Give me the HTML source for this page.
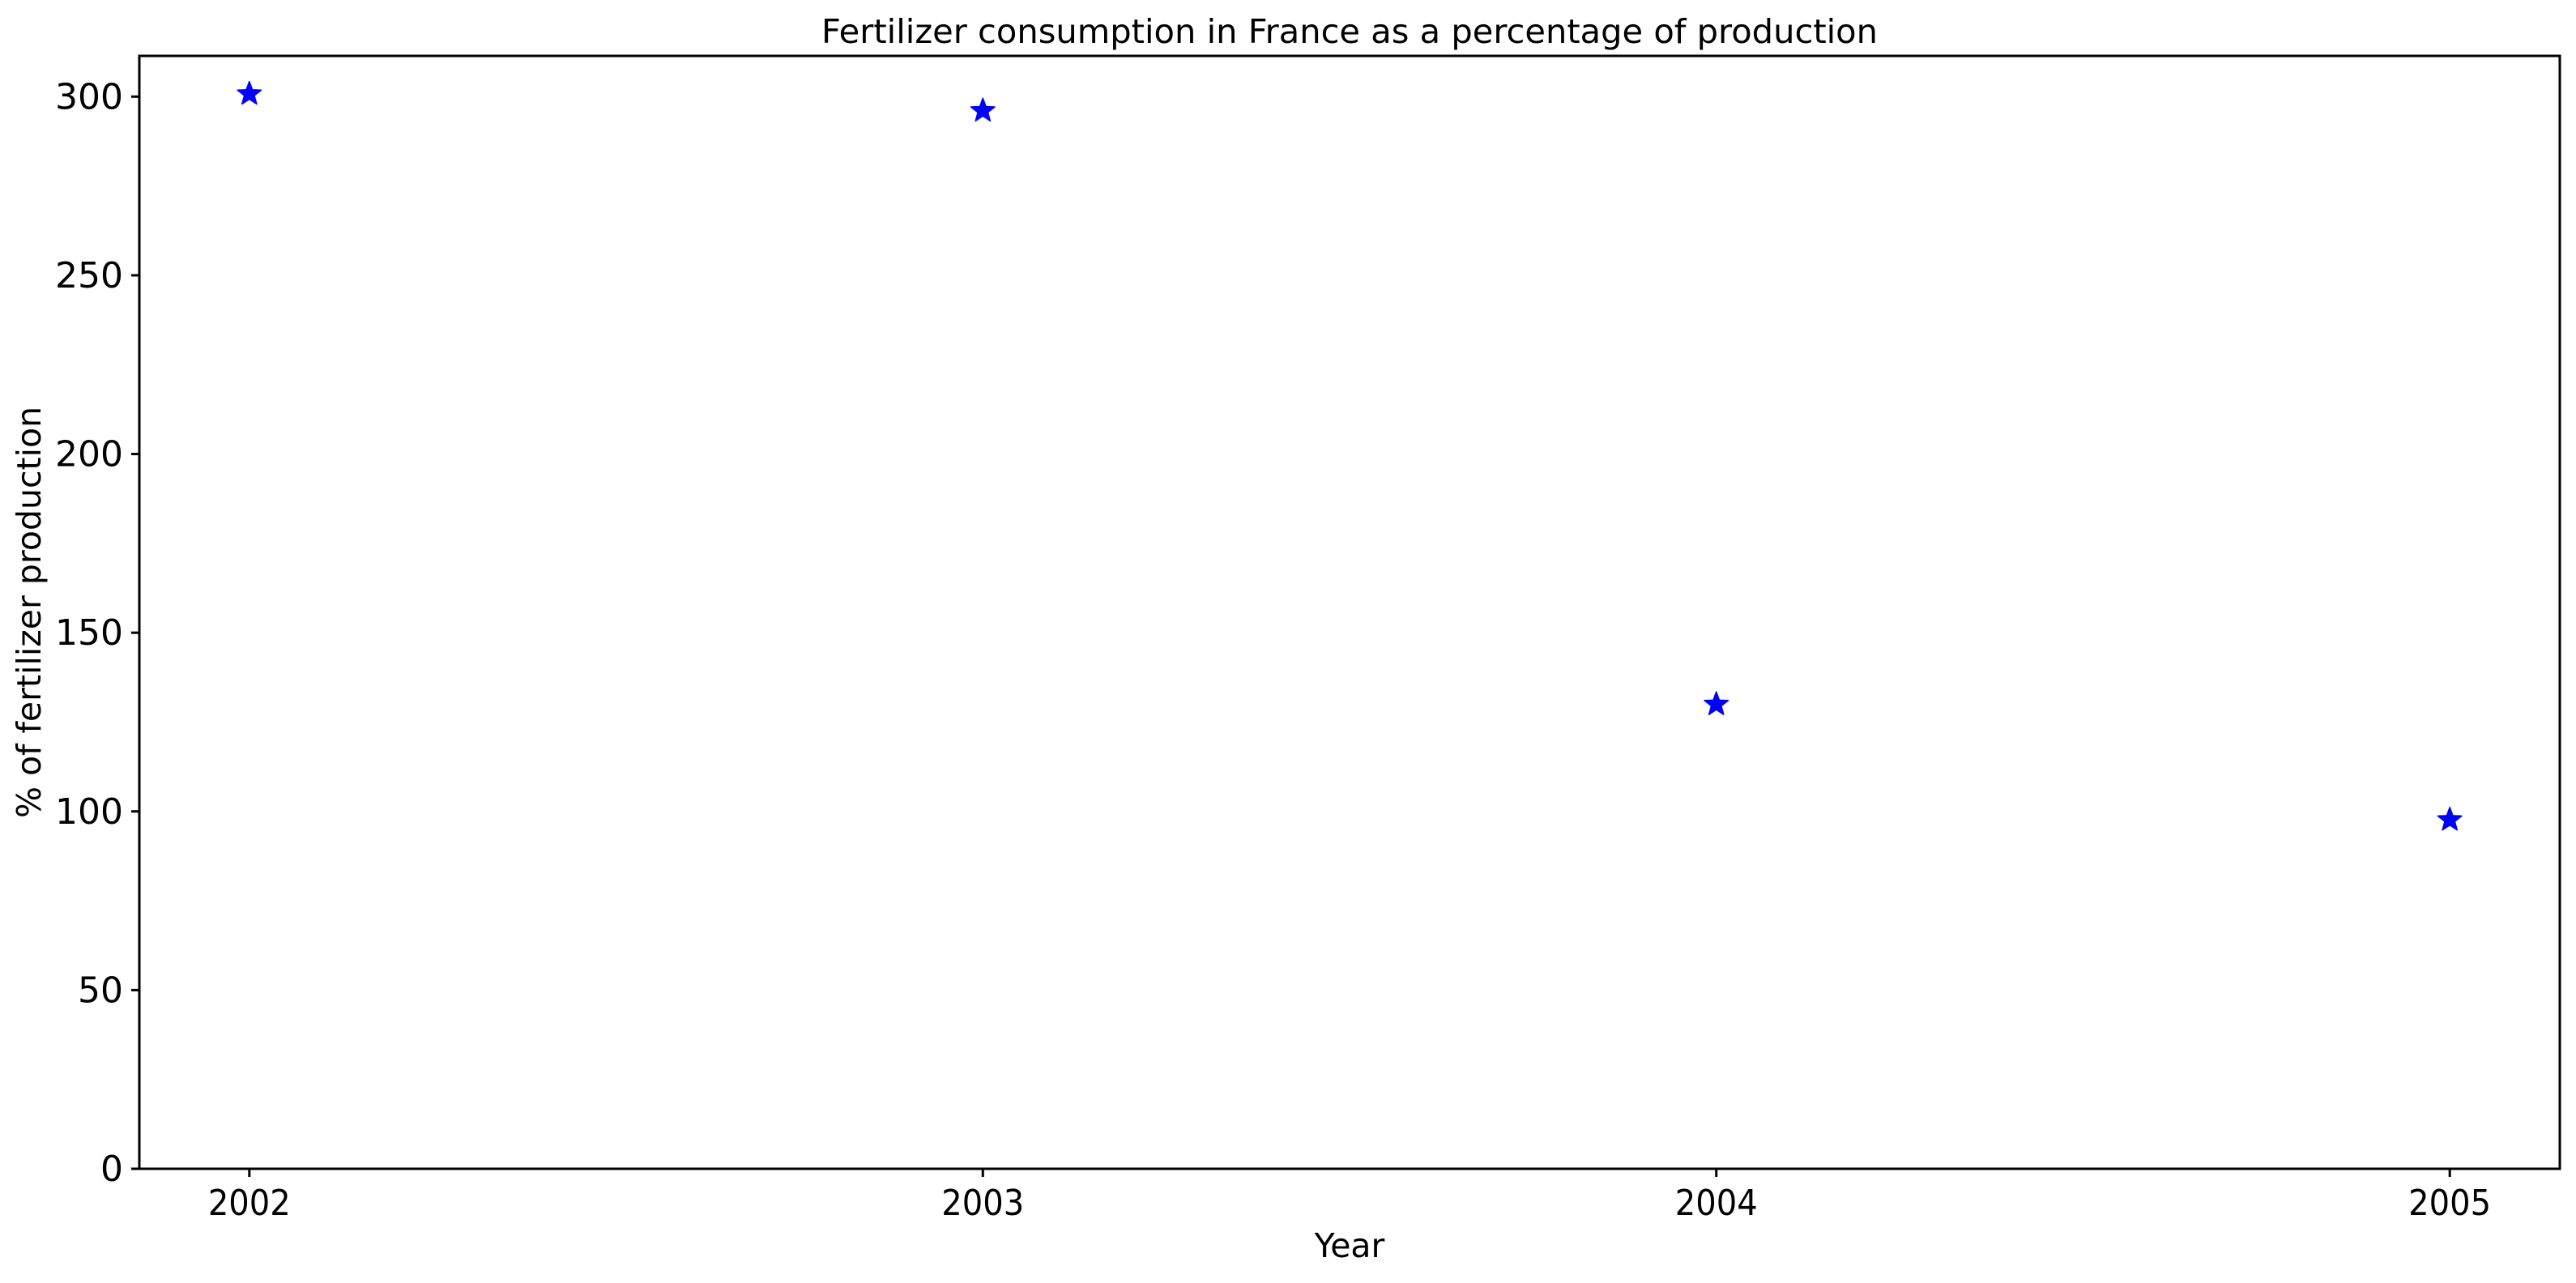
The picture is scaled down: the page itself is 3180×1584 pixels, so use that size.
<!DOCTYPE html>
<html><head><meta charset="utf-8"><style>
html,body{margin:0;padding:0;background:#fff;}
svg text{font-family:"DejaVu Sans","Liberation Sans",sans-serif;fill:#000;}
</style></head><body>
<svg id="chart" width="3180" height="1579" xmlns="http://www.w3.org/2000/svg">
<rect width="3180" height="1579" fill="#fff"/>
<text x="1666" y="53" font-size="41" text-anchor="middle" textLength="1304" lengthAdjust="spacingAndGlyphs">Fertilizer consumption in France as a percentage of production</text>
<g id="yticks"></g>
<g id="xticks"></g>
<g id="marks"></g>
<rect x="172" y="69" width="2988" height="1374" fill="none" stroke="#000" stroke-width="3"/>
<text x="1666" y="1552" font-size="41" text-anchor="middle">Year</text>
<text transform="translate(50,756) rotate(-90)" font-size="41" text-anchor="middle">% of fertilizer production</text>
</svg>
<script>
const years = [2002, 2003, 2004, 2005];
const values = [301.2, 296.5, 130.4, 98.1];
const yTickValues = [0, 50, 100, 150, 200, 250, 300];
const xTickValues = [2002, 2003, 2004, 2005];

const L=172,R=3160,T=69,B=1443;
const xMin=2001.85,xMax=2005.15,yMin=0,yMax=311.4;
function xs(v){return L+(v-xMin)/(xMax-xMin)*(R-L);}
function ys(v){return B-(v-yMin)/(yMax-yMin)*(B-T);}
const NS="http://www.w3.org/2000/svg";
function mk(tag,attrs,parent){const e=document.createElementNS(NS,tag);for(const k in attrs)e.setAttribute(k,attrs[k]);parent.appendChild(e);return e;}

const yg=document.getElementById('yticks');
yTickValues.forEach(v=>{
  const y=ys(v);
  const t=mk('line',{x1:L-10,x2:L,y1:y,y2:y,stroke:'#000','stroke-width':3},yg);
  
  
  const lb=mk('text',{x:L-20,y:y+15,'font-size':44,'text-anchor':'end'},yg);
  lb.textContent=String(v);
  
  
});
const xg=document.getElementById('xticks');
xTickValues.forEach(v=>{
  const x=xs(v);
  const t=mk('line',{x1:x,x2:x,y1:B,y2:B+10,stroke:'#000','stroke-width':3},xg);
  
  
  const lb=mk('text',{x:x,y:B+57,'font-size':44,'text-anchor':'middle',textLength:102,lengthAdjust:'spacingAndGlyphs'},xg);
  lb.textContent=String(v);
  
  
});
function starPts(cx,cy,ro,ri){let p=[];for(let i=0;i<10;i++){const r=i%2?ri:ro;const a=-Math.PI/2+i*Math.PI/5;p.push((cx+r*Math.cos(a)).toFixed(1)+','+(cy+r*Math.sin(a)).toFixed(1));}return p.join(' ');}
const mg=document.getElementById('marks');
years.forEach((yr,i)=>{
  const s=mk('polygon',{points:starPts(xs(yr),ys(values[i])+2,15.5,6.5),fill:'#0000ff',stroke:'#0000ff','stroke-width':1.5,'stroke-linejoin':'round'},mg);
  
  
});
</script>
</body></html>
